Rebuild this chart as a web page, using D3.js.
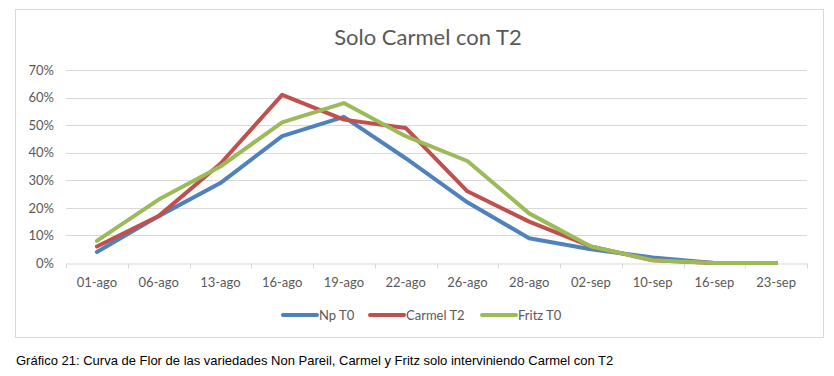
<!DOCTYPE html>
<html>
<head>
<meta charset="utf-8">
<script src="https://cdn.jsdelivr.net/npm/d3@7"></script>
<style>
  body { margin: 0; background: #fff; }
  svg { display: block; }
</style>
</head>
<body>
<div id="chart"></div>
<script>
const categories = ["01-ago", "06-ago", "13-ago", "16-ago", "19-ago", "22-ago",
  "26-ago", "28-ago", "02-sep", "10-sep", "16-sep", "23-sep"];
const seriesNames = ["Np T0", "Carmel T2", "Fritz T0"];
const npT0 = [0.04, 0.17, 0.29, 0.46, 0.53, 0.38, 0.22, 0.09, 0.05, 0.02, 0.00, 0.00];
const carmelT2 = [0.06, 0.17, 0.36, 0.61, 0.52, 0.49, 0.26, 0.15, 0.06, 0.01, 0.00, 0.00];
const fritzT0 = [0.08, 0.23, 0.35, 0.51, 0.58, 0.46, 0.37, 0.18, 0.06, 0.01, 0.00, 0.00];
const yTicks = [0, 0.1, 0.2, 0.3, 0.4, 0.5, 0.6, 0.7];
const colors = ["#4F81BD", "#C0504D", "#9BBB59"];

const series = [npT0, carmelT2, fritzT0].map((values, i) => ({
  name: seriesNames[i],
  color: colors[i],
  values: values
}));

const W = 834, H = 376;
const svg = d3.select("#chart").append("svg").attr("width", W).attr("height", H);

// chart frame
svg.append("rect")
  .attr("x", 15.5).attr("y", 9.5)
  .attr("width", 808).attr("height", 328)
  .attr("fill", "#fff")
  .attr("stroke", "#D9D9D9");

const font = "Lato, 'Open Sans', sans-serif";

svg.append("text")
  .attr("x", 428).attr("y", 45)
  .attr("text-anchor", "middle")
  .style("font-family", font)
  .style("font-size", "22px")
  .style("fill", "#595959")
  .text("Solo Carmel con T2");

const plot = { left: 66, right: 807, top: 70, bottom: 263 };

const x = d3.scaleBand().domain(categories).range([plot.left, plot.right]);
const y = d3.scaleLinear().domain([0, 0.7]).range([plot.bottom, plot.top]);

// gridlines
svg.append("g")
  .selectAll("line")
  .data(yTicks.filter(d => d > 0))
  .enter()
  .append("line")
  .attr("x1", plot.left).attr("x2", plot.right)
  .attr("y1", d => Math.round(y(d)) + 0.5)
  .attr("y2", d => Math.round(y(d)) + 0.5)
  .attr("stroke", "#D9D9D9");

// y axis labels
const yAxis = svg.append("g")
  .attr("transform", `translate(${plot.left},0)`)
  .call(d3.axisLeft(y).tickValues(yTicks).tickFormat(d3.format(".0%")).tickSize(0).tickPadding(12));
yAxis.select(".domain").remove();
yAxis.selectAll("text")
  .style("font-family", font)
  .style("font-size", "13px")
  .style("fill", "#595959");

// x axis
const xAxis = svg.append("g")
  .attr("transform", `translate(0,${Math.round(plot.bottom) + 0.5})`)
  .call(d3.axisBottom(x).tickSize(0).tickPadding(14));
xAxis.select(".domain").attr("stroke", "#D9D9D9");
xAxis.selectAll("text")
  .style("font-family", font)
  .style("font-size", "13px")
  .style("fill", "#595959");
// tick marks between categories
xAxis.selectAll(".sep")
  .data(d3.range(categories.length + 1))
  .enter()
  .append("line")
  .attr("class", "sep")
  .attr("x1", i => Math.round(plot.left + i * x.step()) + 0.5)
  .attr("x2", i => Math.round(plot.left + i * x.step()) + 0.5)
  .attr("y1", 0).attr("y2", 5)
  .attr("stroke", "#D9D9D9");

// lines
const line = d3.line()
  .x((d, i) => x(categories[i]) + x.bandwidth() / 2)
  .y(d => y(d));

svg.append("g")
  .selectAll("path")
  .data(series)
  .enter()
  .append("path")
  .attr("d", d => line(d.values))
  .attr("fill", "none")
  .attr("stroke", d => d.color)
  .attr("stroke-width", 4)
  .attr("stroke-linejoin", "round")
  .attr("stroke-linecap", "round");

// legend
const legendX = [283, 370, 482];
const legend = svg.append("g")
  .selectAll("g")
  .data(series)
  .enter()
  .append("g")
  .attr("transform", (d, i) => `translate(${legendX[i]},315)`);
legend.append("line")
  .attr("x1", 0).attr("x2", 34)
  .attr("stroke", d => d.color)
  .attr("stroke-width", 4)
  .attr("stroke-linecap", "round");
legend.append("text")
  .attr("x", 36).attr("y", 5)
  .style("font-family", font)
  .style("font-size", "13px")
  .style("fill", "#595959")
  .text(d => d.name);

// caption
svg.append("text")
  .attr("x", 16).attr("y", 365)
  .style("font-family", "'Liberation Sans', Arial, sans-serif")
  .style("font-size", "13px")
  .style("fill", "#000")
  .text("Gráfico 21: Curva de Flor de las variedades Non Pareil, Carmel y Fritz solo interviniendo Carmel con T2");
</script>
</body>
</html>
